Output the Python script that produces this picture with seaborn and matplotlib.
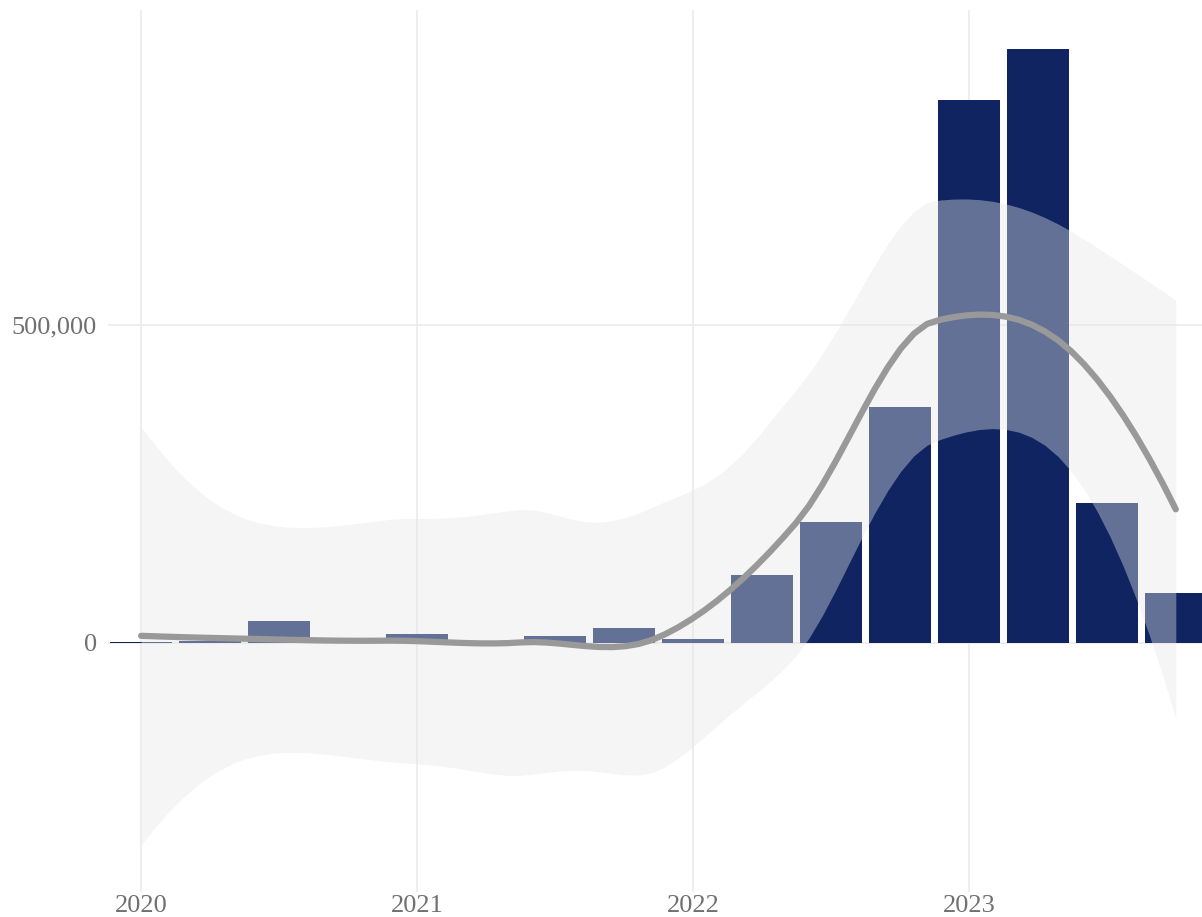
import math
import numpy as np
import pandas as pd
import matplotlib
matplotlib.use("Agg")
import matplotlib.pyplot as plt
import seaborn as sns

# Valeurs trimestrielles (année décimale)
quarters = [2020.0, 2020.25, 2020.5, 2020.75, 2021.0, 2021.25, 2021.5, 2021.75,
            2022.0, 2022.25, 2022.5, 2022.75, 2023.0, 2023.25, 2023.5, 2023.75]
values = [2000, 3000, 35000, 0, 14000, 0, 11000, 23000,
          6000, 107000, 190000, 371000, 854000, 934000, 220000, 79000]
year_ticks = [2020, 2021, 2022, 2023]
y_ticks = [0, 500000]

df = pd.DataFrame({"quarter": quarters, "value": values})

navy = "#0F2461"
text_grey = "#707070"


# Loess local quadratique (span 0.75), comme geom_smooth / loess() de R
def local_rows(x, x0, span=0.75):
    n = len(x)
    q = int(np.floor(n * span))
    d = np.abs(x - x0)
    h = np.sort(d)[q - 1]
    w = np.clip(1 - (d / h) ** 3, 0, None) ** 3
    X = np.column_stack([np.ones(n), x - x0, (x - x0) ** 2])
    XtW = X.T * w
    sol = np.linalg.solve(XtW @ X, XtW)
    return sol[0], sol[1]  # valeur, pente


def kd_vertices(xsorted, fc):
    # découpage en cellules comme le kd-tree de loess (surface = "interpolate")
    verts = []

    def split(pts):
        if len(pts) <= fc:
            return
        m = (len(pts) - 1) // 2
        v = (pts[m] + pts[m + 1]) / 2
        verts.append(v)
        split(pts[pts <= v])
        split(pts[pts > v])

    split(xsorted)
    mu = 0.005 * (xsorted[-1] - xsorted[0])
    verts += [xsorted[0] - mu, xsorted[-1] + mu]
    return np.sort(np.array(verts))


def interp_rows(x, xq, verts, rows0, rows1):
    out = []
    for t in xq:
        k = min(max(np.searchsorted(verts, t) - 1, 0), len(verts) - 2)
        h = verts[k + 1] - verts[k]
        s = (t - verts[k]) / h
        h00 = 2 * s ** 3 - 3 * s ** 2 + 1
        h10 = s ** 3 - 2 * s ** 2 + s
        h01 = -2 * s ** 3 + 3 * s ** 2
        h11 = s ** 3 - s ** 2
        out.append(h00 * rows0[k] + h10 * h * rows1[k] + h01 * rows0[k + 1] + h11 * h * rows1[k + 1])
    return np.array(out)


def t_ppf(p, dof):
    t = np.linspace(0, 30, 300001)
    c = math.exp(math.lgamma((dof + 1) / 2) - math.lgamma(dof / 2)) / math.sqrt(dof * math.pi)
    pdf = c * (1 + t ** 2 / dof) ** (-(dof + 1) / 2)
    cdf = 0.5 + np.concatenate([[0], np.cumsum((pdf[1:] + pdf[:-1]) / 2 * np.diff(t))])
    return t[np.searchsorted(cdf, p)]


x = df["quarter"].to_numpy(float)
y = df["value"].to_numpy(float)
fc = int(np.floor(len(x) * 0.75 * 0.2))
verts = kd_vertices(np.sort(x), fc)
vrows = [local_rows(x, v) for v in verts]
rows0 = np.array([r[0] for r in vrows])
rows1 = np.array([r[1] for r in vrows])

L = interp_rows(x, x, verts, rows0, rows1)
R = np.eye(len(x)) - L
M = R.T @ R
one_delta = np.trace(M)
two_delta = np.trace(M @ M)
sigma = math.sqrt(np.sum((R @ y) ** 2) / one_delta)
tq = t_ppf(0.975, one_delta ** 2 / two_delta)

xs = np.linspace(x.min(), x.max(), 80)
Ls = interp_rows(x, xs, verts, rows0, rows1)
fit = Ls @ y
se = sigma * np.sqrt(np.sum(Ls ** 2, axis=1))
smooth = pd.DataFrame({"quarter": xs, "fit": fit, "lo": fit - tq * se, "hi": fit + tq * se})

sns.set_theme(style="whitegrid")
plt.rcParams["font.family"] = ["Liberation Serif", "DejaVu Serif"]

fig = plt.figure(figsize=(12.02, 9.17), dpi=100)
ax = fig.add_axes([108 / 1202, 25 / 917, 1 - 108 / 1202, 882 / 917])

sns.barplot(data=df, x="quarter", y="value", native_scale=True, width=0.9,
            color=navy, saturation=1, edgecolor="none", linewidth=0, ax=ax, zorder=2)
ax.fill_between(smooth["quarter"], smooth["lo"], smooth["hi"], color="#E6E6E6",
                alpha=0.4, linewidth=0, zorder=3)
sns.lineplot(data=smooth, x="quarter", y="fit", color="#999999", linewidth=4.5,
             ax=ax, zorder=4)

ax.set_xlim(2019.88, 2023.845)
ax.set_ylim(-391500, 995000)

ax.set_xticks(year_ticks)
ax.set_xticklabels([str(t) for t in year_ticks])
ax.set_yticks(y_ticks)
ax.set_yticklabels([f"{v:,}" for v in y_ticks])
ax.set_xlabel("")
ax.set_ylabel("")
ax.grid(True, color="#EBEBEB", linewidth=1.2)
ax.set_axisbelow(True)
for s in ax.spines.values():
    s.set_visible(False)
ax.tick_params(axis="both", length=0, labelsize=19, labelcolor=text_grey)
ax.tick_params(axis="y", pad=8)
ax.tick_params(axis="x", pad=2)
ax.set_facecolor("white")

fig.savefig("out.png", dpi=100)
